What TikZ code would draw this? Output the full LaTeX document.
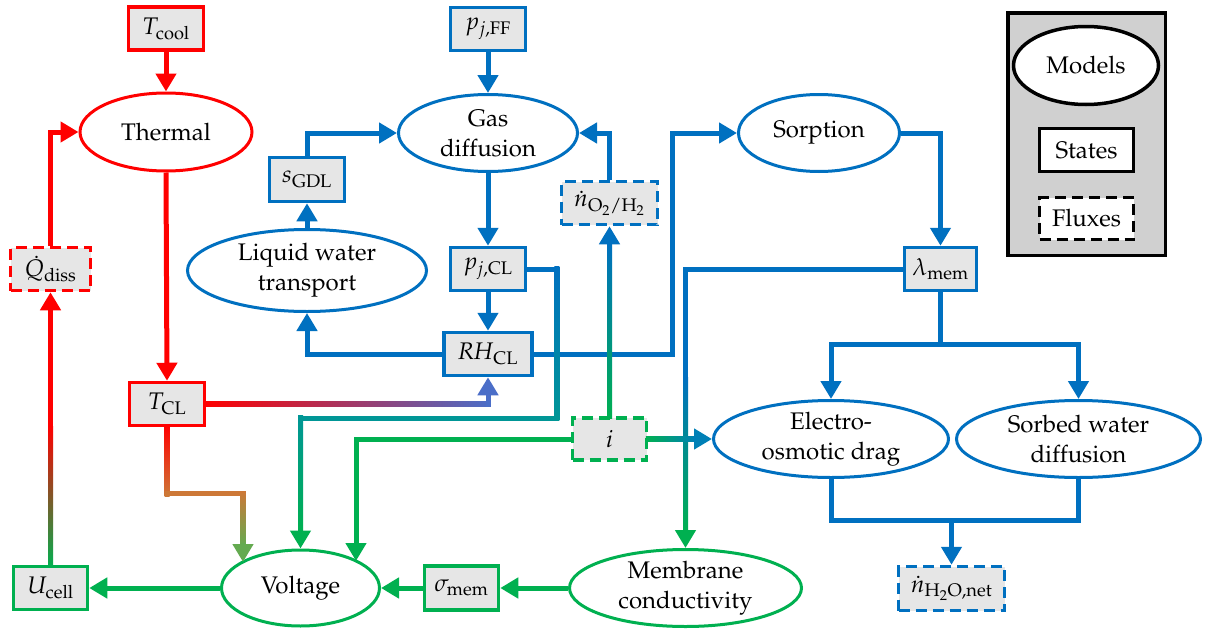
\documentclass[tikz,border=0pt]{standalone}
\usepackage[T1]{fontenc}
\usepackage{mathpazo}
\usetikzlibrary{shapes.geometric,arrows.meta,calc}

\definecolor{cred}{RGB}{255,0,0}
\definecolor{cblue}{RGB}{0,112,192}
\definecolor{cgreen}{RGB}{0,176,80}
\definecolor{cteal}{RGB}{0,150,150}
\definecolor{corange}{RGB}{205,120,55}
\definecolor{colive}{RGB}{100,170,80}
\definecolor{cpink}{RGB}{205,60,120}
\definecolor{cviolet}{RGB}{75,110,200}
\definecolor{cocean}{RGB}{0,128,182}
\definecolor{boxfill}{RGB}{230,230,230}
\definecolor{legfill}{RGB}{208,208,208}

% thick connector pieces filled as bands (5pt wide), so they can carry a colour gradient
\newcommand\vgrad[4]{\shade[top color=#3,bottom color=#4] ($(#1)+(-2.5,-2.5)$) rectangle ($(#2)+(2.5,2.5)$);}
\newcommand\hgrad[4]{\shade[left color=#3,right color=#4] ($(#1)+(-2.5,-2.5)$) rectangle ($(#2)+(2.5,2.5)$);}
\newcommand\hgradm[5]{\shade[left color=#3,middle color=#4,right color=#5] ($(#1)+(-2.5,-2.5)$) rectangle ($(#2)+(2.5,2.5)$);}
\newcommand\band[3]{\fill[#3] ($(#1)+(-2.5,-2.5)$) rectangle ($(#2)+(2.5,2.5)$);}

\begin{document}
\begin{tikzpicture}[x=1pt,y=-1pt,
  every node/.append style={font=\fontsize{24}{30}\selectfont},
  state/.style={rectangle, draw, line width=3.5pt, fill=boxfill, minimum width=75pt, minimum height=43pt, inner sep=0pt},
  flux/.style={state, dash pattern=on 11pt off 6pt},
  model/.style={ellipse, draw, line width=3pt, fill=white, inner sep=0pt, align=center},
  wire/.style={line width=5pt},
  link/.style={wire, -{Triangle[length=18pt,width=20pt]}},
]
\fill[white] (0,0) rectangle (1211,629);
\useasboundingbox (0,0) rectangle (1211,629);

% thermal part
\node[state, draw=cred] (Tcool) at (166,28.5) {$T_{\mathrm{cool}}$};
\node[model, draw=cred, minimum width=172pt, minimum height=78pt] (Thermal) at (166,132) {Thermal};
\node[flux, draw=cred, minimum width=80pt] (Qdiss) at (50.5,269) {$\dot{Q}_{\mathrm{diss}}$};
\node[state, draw=cred] (TCL) at (167,404) {$T_{\mathrm{CL}}$};

% electrical part
\node[state, draw=cgreen, minimum width=74pt] (Ucell) at (50.5,588) {$U_{\mathrm{cell}}$};
\node[model, draw=cgreen, minimum width=158pt, minimum height=76pt] (Voltage) at (300.5,588) {Voltage};
\node[state, draw=cgreen, minimum width=74pt, minimum height=44pt] (smem) at (461.5,588) {$\sigma_{\mathrm{mem}}$};
\node[model, draw=cgreen, minimum width=232pt, minimum height=77pt] (Memb) at (685.5,588) {Membrane\\conductivity};
\node[flux, draw=cgreen, minimum width=74pt, minimum height=42pt] (cur) at (609.5,439) {$i$};

% gas and water part
\node[state, draw=cblue] (pFF) at (488,29) {$p_{j,\mathrm{FF}}$};
\node[model, draw=cblue, minimum width=179pt, minimum height=77pt] (Gas) at (488,133) {Gas\\diffusion};
\node[flux, draw=cblue, minimum width=96pt] (nO2) at (609.5,203) {$\dot{n}_{\mathrm{O_2/H_2}}$};
\node[state, draw=cblue] (pCL) at (488,269) {$p_{j,\mathrm{CL}}$};
\node[state, draw=cblue, minimum width=88pt] (RHCL) at (488,354) {$\mathit{RH}_{\mathrm{CL}}$};
\node[state, draw=cblue, minimum height=44pt] (sGDL) at (307,179.5) {$s_{\mathrm{GDL}}$};
\node[model, draw=cblue, minimum width=239pt, minimum height=82pt] (LWT) at (307,270.5) {Liquid water\\transport};
\node[model, draw=cblue, minimum width=161pt, minimum height=77pt] (Sorp) at (819,133) {Sorption};
\node[state, draw=cblue, minimum width=72pt] (lmem) at (940.5,269) {$\lambda_{\mathrm{mem}}$};
\node[model, draw=cblue, minimum width=235pt, minimum height=77pt] (EOD) at (831,439) {Electro-\\osmotic drag};
\node[model, draw=cblue, minimum width=244pt, minimum height=77pt] (SWD) at (1078.5,439) {Sorbed water\\diffusion};
\node[flux, draw=cblue, minimum width=106pt, minimum height=44pt] (nH2O) at (951.5,588.5) {$\dot{n}_{\mathrm{H_2O,net}}$};

% legend
\node[rectangle, draw, line width=3.5pt, fill=legfill, minimum width=157.5pt, minimum height=242.5pt] (legend) at (1086.5,134) {};
\node[model, line width=3.5pt, minimum width=145pt, minimum height=78pt] (lgM) at (1086,65.5) {Models};
\node[state, fill=white, minimum width=94pt] (lgS) at (1086.5,150) {States};
\node[flux, fill=white, minimum width=94pt, minimum height=42pt] (lgF) at (1086.5,218.5) {Fluxes};

% single-colour connectors
\draw[link, cred] (Tcool.south) -- (Thermal.north);
\draw[link, cred] (Thermal.south) -- (TCL.north);
\draw[link, cred] (Qdiss.north) |- (Thermal.west);
\draw[link, cgreen] (Voltage.west) -- (Ucell.east);
\draw[link, cgreen] (smem.west) -- (Voltage.east);
\draw[link, cgreen] (Memb.west) -- (smem.east);

\draw[link, cblue] (pFF.south) -- (Gas.north);
\draw[link, cblue] (Gas.south) -- (pCL.north);
\draw[link, cblue] (pCL.south) -- (RHCL.north);
\draw[link, cblue] (nO2.north) |- (Gas.east);
\draw[link, cblue] (RHCL.west) -| (LWT.south);
\draw[link, cblue] (LWT.north) -- (sGDL.south);
\draw[link, cblue] (sGDL.north) |- (Gas.west);
\coordinate (rsk) at ($(Sorp.west)+(-65,0)$);
\draw[link, cblue] (RHCL.east) -| (rsk) -- (Sorp.west);
\draw[link, cblue] (Sorp.east) -| (lmem.north);
\coordinate (lsplit) at ($(lmem.south)+(0,52)$);
\draw[wire, cblue] (lmem.south) -- (lsplit);
\draw[link, cblue] (lsplit) -| (EOD.north);
\draw[link, cblue] (lsplit) -| (SWD.north);
\coordinate (njoin) at ($(nH2O.north)+(0,-44)$);
\draw[wire, cblue] (EOD.south) |- (njoin) -| (SWD.south);
\draw[link, cblue] (njoin) -- (nH2O.north);

% U_cell -> Q_diss
\coordinate (qmid) at ($(Qdiss.south)+(0,137)$);
\draw[link, cred] (qmid) -- (Qdiss.south);
\vgrad{qmid}{Ucell.north}{cred}{cgreen}

% T_CL -> Voltage
\coordinate (tvend) at ($(Voltage.center)+(-57.5,-26)$);
\coordinate (tvtip) at ($(tvend)+(0,-19)$);
\coordinate (tvk1) at ($(TCL.south)+(0,66.5)$);
\coordinate (tvk2) at (tvk1 -| tvend);
\vgrad{TCL.south}{tvk1}{cred}{corange}
\band{tvk1}{tvk2}{corange}
\vgrad{tvk2}{tvtip}{corange}{colive}
\draw[link, colive] (tvtip) -- (tvend);

% T_CL -> RH_CL
\coordinate (trk) at (TCL.east -| RHCL.south);
\coordinate (trtip) at ($(RHCL.south)+(0,19)$);
\hgradm{TCL.east}{trk}{cred}{cpink}{cviolet}
\band{trtip}{trk}{cviolet}
\draw[link, cviolet] (trtip) -- (RHCL.south);

% p_CL -> Voltage
\coordinate (pv1) at ($(pCL.east)+(29.5,0)$);
\coordinate (pv2) at ($(pv1)+(0,149)$);
\coordinate (pv3) at (pv2 -| Voltage.north);
\coordinate (pvtip) at ($(Voltage.north)+(0,-19)$);
\band{pCL.east}{pv1}{cblue}
\vgrad{pv1}{pv2}{cblue}{cteal}
\band{pv3}{pv2}{cteal}
\vgrad{pv3}{pvtip}{cteal}{cgreen}
\draw[link, cgreen] (pvtip) -- (Voltage.north);

% i -> Voltage
\coordinate (ivend) at ($(Voltage.center)+(55.5,-27)$);
\draw[link, cgreen] (cur.west) -| (ivend);

% i -> n_O2/H2
\coordinate (intip) at ($(nO2.south)+(0,19)$);
\vgrad{intip}{cur.north}{cblue}{cgreen}
\draw[link, cblue] (intip) -- (nO2.south);

% lambda_mem -> membrane conductivity
\coordinate (lm1) at (lmem.west -| Memb.north);
\coordinate (lm2) at ($(lm1)+(0,111)$);
\coordinate (lmtip) at ($(Memb.north)+(0,-19)$);
\band{lm1}{lmem.west}{cblue}
\band{lm1}{lm2}{cblue}
\vgrad{lm2}{lmtip}{cblue}{cgreen}
\draw[link, cgreen] (lmtip) -- (Memb.north);

% i -> electro-osmotic drag
\coordinate (ietip) at ($(EOD.west)+(-19,0)$);
\hgrad{cur.east}{ietip}{cgreen}{cocean}
\draw[link, cocean] (ietip) -- (EOD.west);
\end{tikzpicture}
\end{document}
